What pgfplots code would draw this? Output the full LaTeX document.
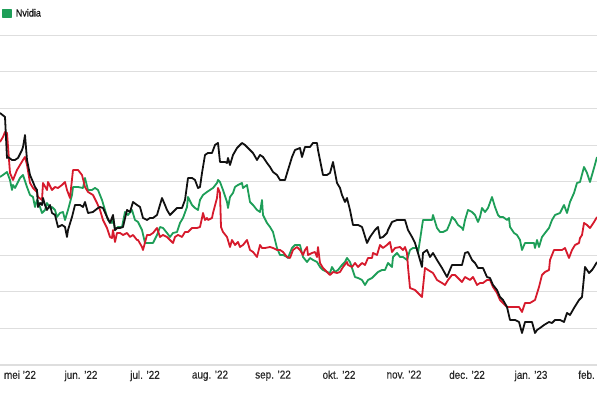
\documentclass[border=0pt]{standalone}
\usepackage{fontspec}
\setmainfont{Liberation Sans}[FakeStretch=0.86, FakeBold=0.35]
\usepackage{pgfplots}
\pgfplotsset{compat=1.18}
\definecolor{nvgreen}{RGB}{30,158,88}
\definecolor{amdred}{RGB}{214,26,44}
\definecolor{inkblack}{RGB}{17,17,17}
\definecolor{gridgray}{RGB}{222,222,222}
\definecolor{labgray}{RGB}{40,40,40}
\begin{document}
\begin{tikzpicture}
\begin{axis}[
  at={(0pt,0pt)}, anchor=south west,
  scale only axis, width=597pt, height=330pt,
  xmin=0, xmax=597, ymin=0, ymax=330,
  axis x line*=bottom, axis y line*=left,
  x axis line style={draw=gridgray, line width=1.4pt},
  y axis line style={draw=none},
  ytick={0,36.667,73.333,110,146.667,183.333,220,256.667,293.333,330},
  yticklabels={},
  ymajorgrids, grid style={draw=gridgray, line width=0.9pt},
  xtick={20,81,145,210,273,339,404,467,531,595},
  xticklabels={mei '22,jun. '22,jul. '22,aug. '22,sep. '22,okt. '22,nov. '22,dec. '22,jan. '23,feb. '23},
  major tick length=0pt,
  xticklabel style={font=\fontsize{11.5}{13}\selectfont, text=labgray, yshift=-2pt},
  legend style={at={(0,1)}, anchor=west, xshift=2pt, yshift=21.5pt, draw=none, fill=none,
    inner sep=0pt, outer sep=0pt, font=\fontsize{10.5}{12}\selectfont, text=inkblack,
    column sep=2pt},
  legend cell align=left,
  clip=true,
]
\addplot[nvgreen, line width=1.8pt, line join=round,
  legend image code/.code={\fill[nvgreen] (0pt,-4pt) rectangle (8pt,4pt);}] coordinates {
(0,188)(3,190)(7,193)(10,185)(12,175)(13,180)(15,177)(18,183)(20,187)(23,190)(27,178)(30,170)(33,168)(35,158)(37,165)(40,158)(42,152)(45,155)(47,162)(50,157)(52,158)(55,155)(57,148)(60,152)(63,153)(65,145)(68,155)(72,170)(73,178)(78,178)(83,177)(85,187)(88,175)(92,175)(95,177)(98,175)
(100,170)(102,165)(105,155)(108,145)(112,142)(113,148)(115,135)(118,138)(122,138)(125,153)(128,150)(132,155)(135,145)(138,143)(142,135)(145,122)(148,122)(153,122)(157,130)(160,138)(163,137)(167,132)(170,128)(173,132)(177,133)(180,142)(183,147)(187,158)(188,168)(192,160)(195,157)(198,155)
(200,165)(203,170)(207,173)(210,175)(213,177)(217,182)(218,185)(220,183)(223,175)(227,163)(228,157)(230,168)(233,172)(235,178)(238,180)(242,182)(243,177)(247,180)(250,163)(253,160)(257,155)(260,153)(262,165)(263,150)(267,142)(270,138)(273,133)(277,117)(280,110)(283,110)(287,108)(288,107)(292,117)(295,120)
(300,120)(303,108)(307,103)(310,107)(313,105)(317,103)(320,98)(323,95)(327,93)(330,92)(332,98)(335,93)(338,95)(342,100)(345,103)(347,107)(350,103)(352,97)(355,88)(358,87)(362,85)(365,80)(368,85)(372,87)(375,90)(378,93)(382,95)(385,95)(388,102)(392,98)(393,108)(397,112)
(400,108)(403,108)(407,105)(410,115)(413,117)(417,117)(418,112)(420,125)(423,145)(427,145)(432,145)(433,150)(437,137)(440,133)(443,133)(447,135)(450,142)(452,148)(455,145)(458,140)(462,137)(463,135)(465,145)(468,155)(472,153)(475,150)(478,143)(480,148)(482,157)(485,153)(488,157)(492,168)(495,158)(498,150)
(500,148)(503,148)(507,145)(509,147)(510,138)(514,132)(517,130)(520,125)(522,115)(525,122)(530,122)(534,122)(535,117)(537,125)(539,118)(542,128)(545,132)(549,137)(552,145)(555,150)(560,152)(564,160)(567,152)(570,163)(574,172)(577,182)(580,183)(584,198)(587,192)(590,183)(594,197)(597,208)
};
\addlegendentry{Nvidia}
\addplot[amdred, line width=1.8pt, line join=round, forget plot] coordinates {
(0,223)(3,228)(5,233)(7,232)(10,192)(13,185)(17,195)(20,200)(23,205)(25,208)(27,200)(30,182)(33,177)(37,173)(38,168)(42,165)(43,182)(47,175)(48,183)(52,175)(55,178)(58,177)(62,180)(65,183)(67,175)(70,167)(73,195)(78,195)(82,190)(85,178)(88,173)(93,170)(97,162)
(100,155)(103,145)(107,137)(110,128)(112,127)(113,135)(115,123)(117,132)(120,132)(123,130)(127,132)(130,128)(133,130)(137,125)(138,125)(142,118)(143,115)(147,130)(150,130)(153,132)(157,137)(160,128)(163,130)(167,128)(170,125)(173,122)(175,128)(178,130)(182,128)(185,133)(188,133)(192,137)(197,137)
(200,138)(202,147)(203,152)(205,145)(207,147)(208,145)(212,147)(213,152)(217,167)(218,177)(220,172)(221,138)(223,133)(227,128)(230,118)(232,125)(235,120)(238,123)(240,118)(243,120)(247,125)(250,115)(253,113)(257,108)(260,120)(262,117)(265,117)(270,118)(273,117)(277,115)(280,115)(283,113)(287,108)(290,107)(293,115)(297,118)
(300,115)(303,110)(305,115)(307,118)(308,110)(312,112)(315,113)(317,108)(318,118)(320,102)(323,97)(327,93)(330,90)(333,93)(337,92)(340,93)(343,98)(347,103)(348,100)(352,98)(355,102)(358,98)(362,102)(365,100)(368,107)(372,107)(373,112)(377,110)(380,120)(383,117)(387,120)(390,123)(392,113)(395,117)
(400,118)(403,115)(405,118)(407,112)(408,98)(410,77)(415,75)(418,72)(422,68)(425,97)(428,95)(433,92)(437,85)(442,82)(445,80)(448,85)(452,90)(455,90)(458,87)(462,83)(465,88)(470,85)(473,88)(477,80)(480,82)(483,82)(487,85)(490,85)(493,78)(497,72)
(500,65)(503,62)(507,58)(512,58)(515,58)(519,58)(522,53)(525,62)(530,62)(535,65)(539,78)(542,90)(545,93)(549,95)(550,105)(554,115)(557,115)(562,115)(565,117)(569,107)(572,115)(575,120)(579,122)(580,127)(582,130)(584,142)(587,140)(590,137)(594,143)(597,148)
};
\addplot[inkblack, line width=1.8pt, line join=round, forget plot] coordinates {
(0,252)(5,248)(7,207)(8,208)(12,205)(15,205)(18,207)(22,215)(23,218)(25,230)(27,205)(30,190)(33,183)(35,178)(37,175)(38,158)(40,162)(42,160)(43,167)(45,160)(47,155)(50,160)(52,152)(55,150)(58,138)(62,140)(65,138)(67,128)(68,135)(72,148)(75,160)(80,160)(83,158)(85,163)(88,152)(93,153)(98,157)
(100,158)(103,157)(107,148)(110,142)(113,150)(115,135)(117,137)(120,137)(123,138)(127,155)(130,153)(133,163)(137,160)(140,158)(143,147)(147,145)(150,147)(153,147)(157,150)(162,167)(165,160)(167,155)(170,150)(173,153)(177,157)(182,157)(185,165)(188,187)(192,187)(195,185)(198,177)
(200,178)(202,192)(205,210)(208,212)(212,212)(215,220)(218,222)(220,203)(225,203)(227,202)(228,207)(230,200)(233,210)(237,217)(242,222)(245,220)(248,217)(253,212)(257,205)(260,210)(263,208)(267,202)(270,198)(273,193)(277,190)(280,185)(285,185)(288,195)(292,208)(295,215)
(300,217)(302,208)(305,218)(310,218)(313,222)(317,222)(318,215)(323,190)(327,190)(330,192)(333,203)(337,182)(340,177)(342,170)(345,163)(347,167)(350,155)(353,140)(358,140)(362,138)(363,135)(367,122)(370,128)(375,135)(378,138)(380,127)(383,128)(387,132)(388,135)(392,143)(397,145)
(400,145)(405,145)(408,135)(412,128)(415,122)(418,112)(422,98)(423,112)(427,115)(430,108)(433,112)(437,105)(442,97)(447,88)(452,100)(457,100)(462,100)(465,112)(468,113)(472,105)(475,102)(478,97)(483,97)(487,88)(490,87)(493,80)(497,75)
(500,68)(503,65)(507,58)(510,45)(515,45)(519,43)(522,32)(525,43)(532,43)(535,32)(537,35)(540,37)(544,40)(549,43)(552,42)(555,45)(560,45)(564,43)(567,52)(570,50)(574,57)(579,65)(582,68)(585,98)(589,92)(592,95)(594,98)(597,103)
};
\end{axis}
\pgfresetboundingbox
\useasboundingbox (0pt,-33pt) rectangle (597pt,365pt);
\end{tikzpicture}
\end{document}
